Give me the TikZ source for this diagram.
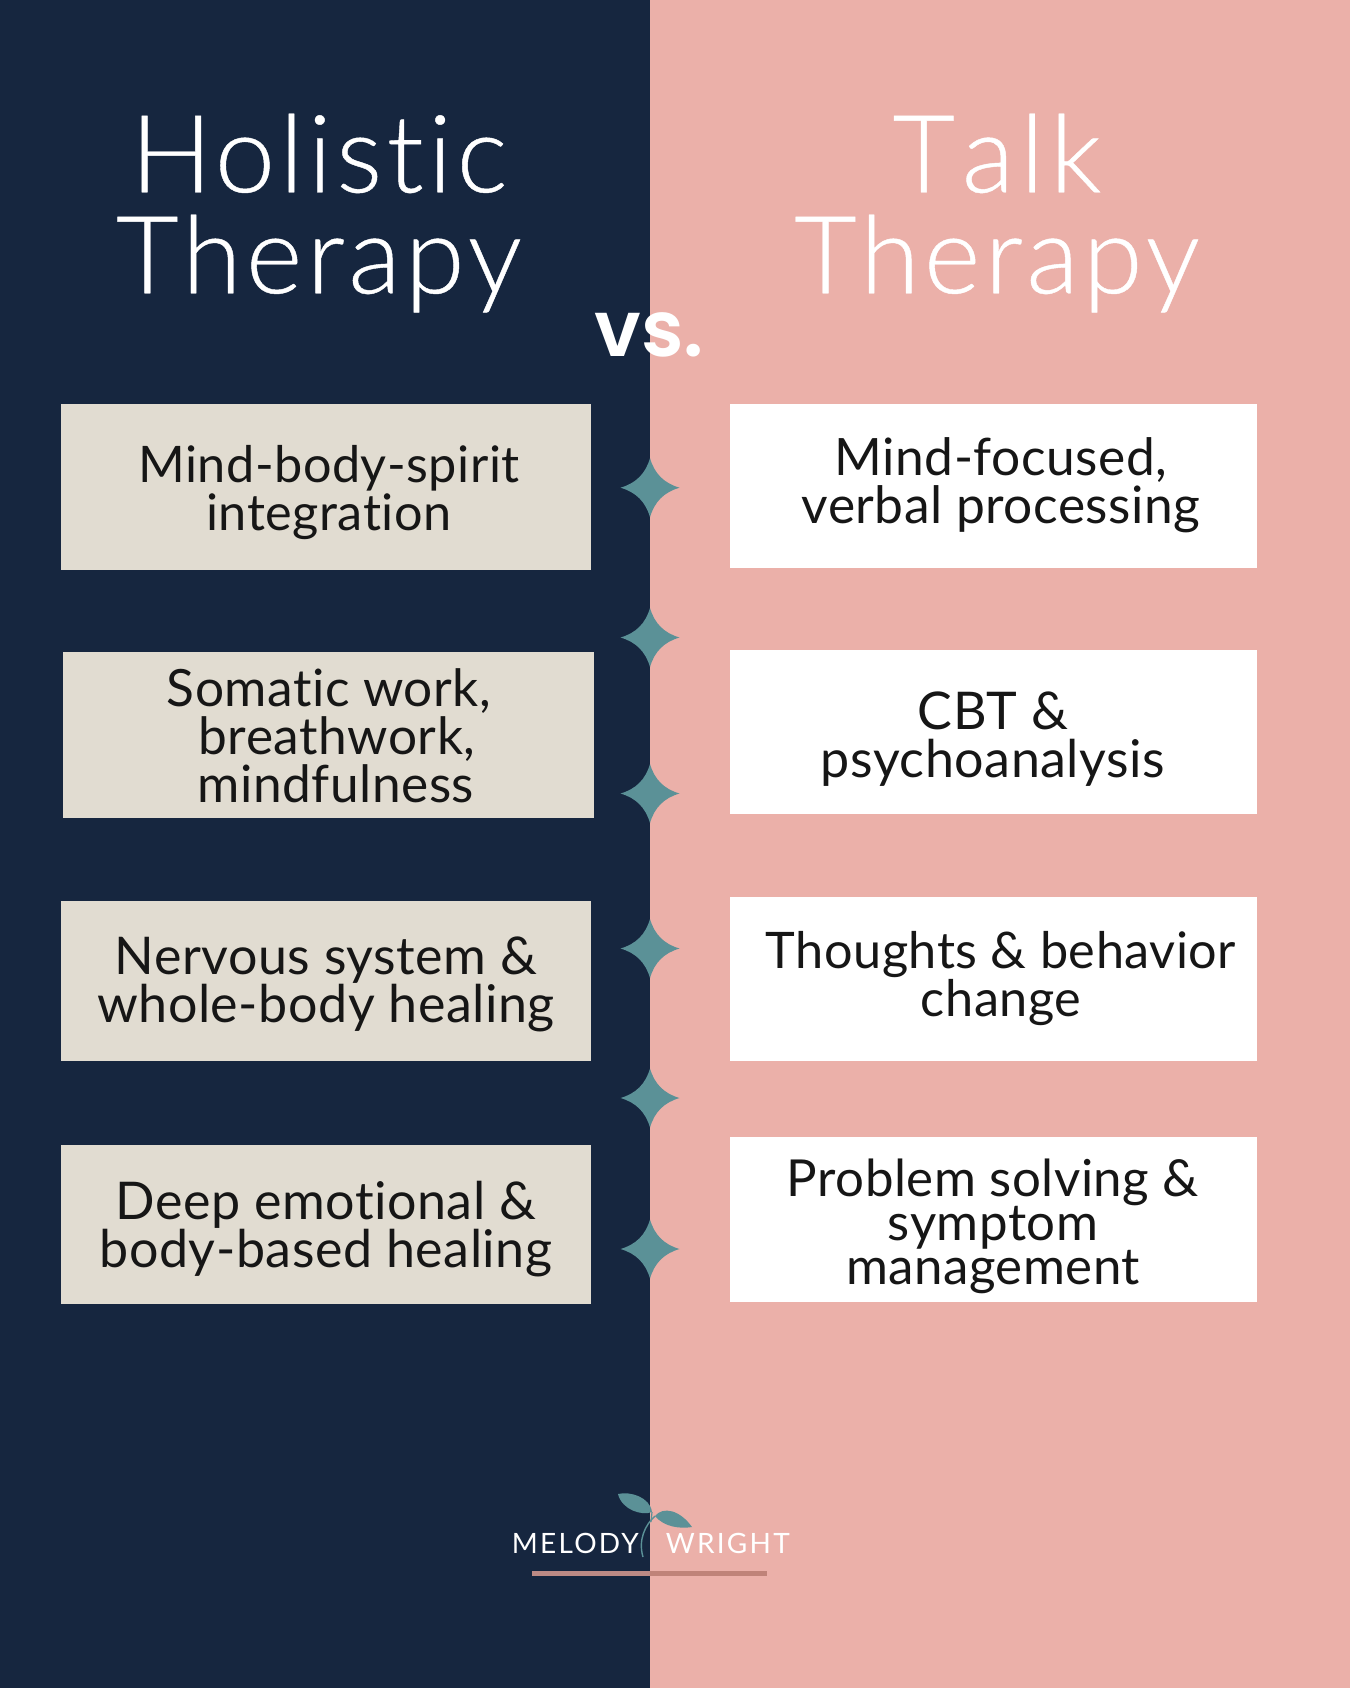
\documentclass[tikz,border=0pt]{standalone}
\usepackage{fontspec}
\setmainfont{Lato}[LetterSpace=1,Ligatures=NoCommon]
\newfontfamily\vsfont{Poppins SemiBold}
\newfontfamily\lightfont{Lato Light}[LetterSpace=4.1,Ligatures=NoCommon,FakeBold=0.4]
\newfontfamily\logofont{Lato}[LetterSpace=8,Ligatures=NoCommon]
\definecolor{navy}{HTML}{16263F}
\definecolor{blush}{HTML}{EBB0A9}
\definecolor{sand}{HTML}{E1DCD1}
\definecolor{tealc}{HTML}{5B9197}
\definecolor{ink}{HTML}{161616}
\definecolor{ruleL}{HTML}{BC8A85}
\definecolor{ruleR}{HTML}{BF8379}
\tikzset{
  bodytxt/.style={align=center,text=ink,font=\fontsize{#1}{48}\selectfont,inner sep=0pt},
  bodytxt/.default=52,
  titletxt/.style={align=center,text=white,font=\lightfont\fontsize{108}{101}\selectfont,inner sep=0pt},
  logotxt/.style={text=white,font=\logofont\fontsize{28}{30}\selectfont,inner sep=0pt,anchor=base},
}
\newcommand{\sparkle}[1]{%
  \fill[tealc] (650,#1-29.5) .. controls (654.5,#1-14) and (664,#1-4.5) .. (679.5,#1)
    .. controls (664,#1+4.5) and (654.5,#1+14) .. (650,#1+29.5)
    .. controls (645.5,#1+14) and (636,#1+4.5) .. (620.5,#1)
    .. controls (636,#1-4.5) and (645.5,#1-14) .. (650,#1-29.5) -- cycle;}
\begin{document}
\begin{tikzpicture}[x=1pt,y=-1pt]
\useasboundingbox (0,0) rectangle (1350,1688);
\fill[navy] (0,0) rectangle (650,1688);
\fill[blush] (650,0) rectangle (1350,1688);
\node[titletxt] (t1) at (319,213) {Holistic\\Therapy};
\node[titletxt] (t2) at (997,213) {T\kern7pt a\kern6pt l\kern6pt k\\Therapy};
\node[text=white,font=\vsfont\fontsize{78}{78}\selectfont,inner sep=0pt] (vs) at (649.5,335) {vs.};
% left boxes
\fill[sand] (60.5,404) rectangle (591,569.5);
\fill[sand] (62.5,651.5) rectangle (593.5,818);
\fill[sand] (60.5,901) rectangle (591,1060.5);
\fill[sand] (60.5,1144.5) rectangle (591,1304);
% right boxes
\fill[white] (730,404) rectangle (1256.5,567.5);
\fill[white] (730,650) rectangle (1256.5,814);
\fill[white] (730,897) rectangle (1256.5,1060.5);
\fill[white] (730,1137) rectangle (1256.5,1301.5);
\node[bodytxt=50.4] (l1) at (329,492.5) {Mind-body-spirit\\integration};
\node[bodytxt=51.4] (l2) at (329,736) {Somatic work,\\\hspace*{16pt}breathwork,\\\hspace*{14pt}mindfulness};
\node[bodytxt=52] (l3) at (326,984) {Nervous system \&\\whole-body healing};
\node[bodytxt=52] (l4) at (326,1229) {Deep emotional \&\\body-based healing};
\node[bodytxt=51.5] (r1) at (1001,485) {Mind-focused,\\verbal processing};
\node[bodytxt=52] (r2) at (993,739) {CBT \&\\psychoanalysis};
\node[bodytxt=50.4] (r3) at (1001,978.5) {Thoughts \& behavior\\change};
\node[bodytxt,font=\fontsize{51}{43.5}\selectfont] (r4) at (993,1226) {Problem solving \&\\symptom\\management};
\sparkle{487.7}
\sparkle{637.5}
\sparkle{793.5}
\sparkle{948.5}
\sparkle{1098}
\sparkle{1249}
% logo
\fill[tealc] (618,1494) .. controls (630,1491) and (650,1497) .. (652,1512) .. controls (642,1516) and (622,1510) .. (618,1494) -- cycle;
\fill[tealc] (655,1516) .. controls (663,1506) and (680,1510) .. (692,1527) .. controls (680,1529) and (664,1527) .. (655,1516) -- cycle;
\draw[tealc,line width=1.4pt] (643,1557) .. controls (638,1540) and (645,1525) .. (655,1516);
\draw[tealc,line width=1.2pt] (652,1512) -- (651,1522);
\node[logotxt] (m) at (575.4,1553) {MELODY};
\node[logotxt] (w) at (727.8,1553) {WRIGHT};
\fill[ruleL] (532,1570.5) rectangle (650,1575.5);
\fill[ruleR] (650,1570.5) rectangle (767,1575.5);
\end{tikzpicture}
\end{document}
